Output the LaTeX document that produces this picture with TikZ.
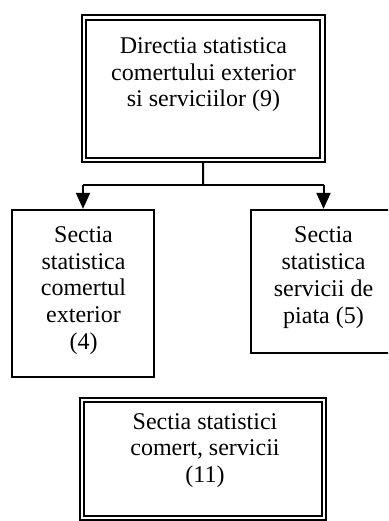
\documentclass[tikz,border=0pt]{standalone}
\usepackage{fontspec}
\setmainfont{Liberation Serif}
\usetikzlibrary{arrows.meta}
\begin{document}
\begin{tikzpicture}[x=1pt,y=-1pt,
  dbox/.style={draw=black, line width=2.2pt, double=white, double distance=2.4pt, inner sep=0pt, rectangle},
  sbox/.style={draw=black, line width=2.3pt, inner sep=0pt, rectangle},
  txt/.style={align=center, inner sep=0pt, font=\fontsize{24}{26.8}\selectfont},
  conn/.style={line width=2pt},
  arr/.style={line width=2pt, -{Triangle[width=14pt,length=16pt]}}]
\useasboundingbox (0,0) rectangle (388,521);
\clip (0,0) rectangle (388,521);
% boxes
\node[dbox, minimum width=238.5pt, minimum height=142.5pt] (dir) at (203.25,88.75) {};
\node[sbox, minimum width=142pt, minimum height=167pt] (left) at (83,293.5) {};
\node[sbox, minimum width=160pt, minimum height=143pt] (right) at (331,281.5) {};
\node[dbox, minimum width=242pt, minimum height=118pt] (bot) at (203,459) {};
% texts
\node[txt] (tdir) at (203.5,74.8) {Directia statistica\\comertului exterior\\si serviciilor (9)};
\node[txt] (tleft) at (83.5,290.5) {Sectia\\statistica\\comertul\\exterior\\(4)};
\node[txt] (tright) at (323.5,277.5) {Sectia\\statistica\\servicii de\\piata (5)};
\node[txt] (tbot) at (205,450.5) {Sectia statistici\\comert, servicii\\(11)};
% connectors
\coordinate (j) at (203,185);
\coordinate (jl) at (83,185);
\coordinate (jr) at (323.5,185);
\draw[conn] (dir.south) -- (j);
\draw[conn] (jl) -- (jr);
\draw[arr] (jl) -- (jl |- left.north);
\draw[arr] (jr) -- (jr |- right.north);
\end{tikzpicture}
\end{document}
